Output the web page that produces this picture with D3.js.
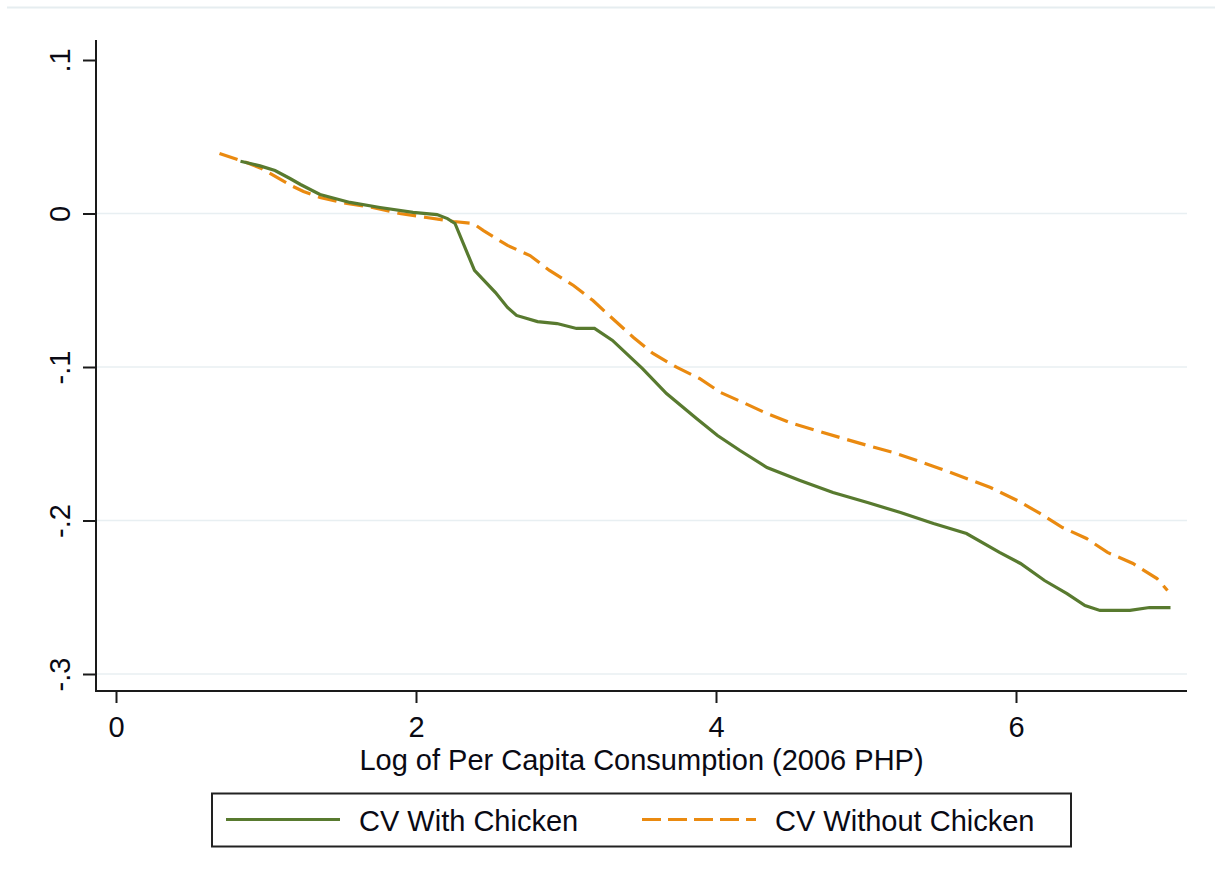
<!DOCTYPE html>
<html>
<head>
<meta charset="utf-8">
<script src="https://cdn.jsdelivr.net/npm/d3@7"></script>
<style>
  html, body { margin: 0; padding: 0; background: #ffffff; }
  svg { display: block; font-family: "Liberation Sans", Arial, sans-serif; }
</style>
</head>
<body>
<svg id="chart" width="1215" height="885"></svg>
<script>
// ---- Data ----
const xWith = [0.83, 0.96, 1.06, 1.16, 1.23, 1.36, 1.56, 1.76, 1.98, 2.14, 2.21, 2.26, 2.39, 2.53, 2.61, 2.67,
  2.81, 2.94, 3.07, 3.19, 3.31, 3.51, 3.67, 3.87, 4.01, 4.16, 4.34, 4.56, 4.78, 5.01, 5.23, 5.45, 5.67, 5.89,
  6.03, 6.19, 6.34, 6.46, 6.56, 6.76, 6.89, 7.03];
const yWith = [0.034, 0.031, 0.028, 0.0228, 0.0189, 0.0124, 0.0072, 0.0039, 0.0007, -0.0007, -0.0033, -0.0065,
  -0.0371, -0.0515, -0.0612, -0.0664, -0.0704, -0.0717, -0.0749, -0.0749, -0.0827, -0.101, -0.1173, -0.1336,
  -0.1446, -0.1544, -0.1655, -0.1739, -0.1818, -0.1883, -0.1948, -0.202, -0.2085, -0.2208, -0.228, -0.2391,
  -0.2476, -0.2554, -0.2586, -0.2586, -0.2567, -0.2567];

const xWithout = [0.69, 0.87, 0.97, 1.05, 1.18, 1.25, 1.36, 1.54, 1.71, 1.89, 2.07, 2.25, 2.38, 2.45, 2.61,
  2.76, 2.89, 3.05, 3.18, 3.31, 3.45, 3.58, 3.74, 3.89, 4.03, 4.18, 4.34, 4.51, 4.67, 4.85, 5.01, 5.18, 5.34,
  5.49, 5.67, 5.83, 6.01, 6.16, 6.31, 6.47, 6.61, 6.78, 6.94, 7.01];
const yWithout = [0.0391, 0.0332, 0.0293, 0.0248, 0.0176, 0.0143, 0.0104, 0.0065, 0.0039, 0.0, -0.0026, -0.0052,
  -0.0065, -0.0111, -0.0208, -0.0274, -0.0371, -0.0469, -0.0567, -0.0684, -0.0808, -0.0912, -0.1003, -0.1075,
  -0.1166, -0.1231, -0.1303, -0.1368, -0.1414, -0.1466, -0.1511, -0.1557, -0.1609, -0.1661, -0.1726, -0.1785,
  -0.187, -0.1954, -0.2046, -0.2117, -0.2208, -0.228, -0.2378, -0.2456];

const xTicks = [0, 2, 4, 6];
const xTickLabels = ["0", "2", "4", "6"];
const yTicks = [0.1, 0, -0.1, -0.2, -0.3];
const yTickLabels = [".1", "0", "-.1", "-.2", "-.3"];
const gridTicks = [0, -0.1, -0.2, -0.3];
const seriesNames = ["CV With Chicken", "CV Without Chicken"];
const xTitle = "Log of Per Capita Consumption (2006 PHP)";

// ---- Layout ----
const plot = { left: 96, right: 1187, top: 40, bottom: 691 };
const x = d3.scaleLinear().domain([0, 6]).range([116, 1016]);
const y = d3.scaleLinear().domain([-0.3, 0.1]).range([674, 60]);

const colWith = "#587a2f";
const colWithout = "#ea8a10";
const axisCol = "#1a1a1a";
const textCol = "#0a0a14";
const fontSize = 29;

const svg = d3.select("#chart");

// faint outer frame line at top
svg.append("line").attr("x1", 7).attr("x2", 1215).attr("y1", 7.5).attr("y2", 7.5)
  .attr("stroke", "#e6edf0").attr("stroke-width", 2);

// gridlines
svg.append("g").selectAll("line").data(gridTicks).join("line")
  .attr("x1", plot.left).attr("x2", plot.right)
  .attr("y1", d => y(d)).attr("y2", d => y(d))
  .attr("stroke", "#e8eff2").attr("stroke-width", 1.5);

// series lines
const lineGen = d3.line().x(d => x(d[0])).y(d => y(d[1]));
const dataWith = xWith.map((v, i) => [v, yWith[i]]);
const dataWithout = xWithout.map((v, i) => [v, yWithout[i]]);

svg.append("path").datum(dataWithout).attr("d", lineGen)
  .attr("fill", "none").attr("stroke", colWithout).attr("stroke-width", 3.2)
  .attr("stroke-dasharray", "19,8");
svg.append("path").datum(dataWith).attr("d", lineGen)
  .attr("fill", "none").attr("stroke", colWith).attr("stroke-width", 3.2);

// y axis
const yAxis = d3.axisLeft(y).tickValues(yTicks).tickSize(13)
  .tickFormat((d, i) => yTickLabels[i]).tickSizeOuter(0);
const gy = svg.append("g").attr("transform", `translate(${plot.left},0)`).call(yAxis);
gy.select(".domain").remove();
gy.selectAll(".tick line").attr("stroke", axisCol).attr("stroke-width", 2);
gy.selectAll(".tick text")
  .attr("x", null).attr("dy", null)
  .attr("transform", "translate(-26,0) rotate(-90)")
  .attr("text-anchor", "middle")
  .attr("fill", textCol).attr("font-size", fontSize)
  .attr("font-family", "'Liberation Sans', Arial, sans-serif");
svg.append("line").attr("x1", plot.left).attr("x2", plot.left)
  .attr("y1", plot.top).attr("y2", plot.bottom + 1)
  .attr("stroke", axisCol).attr("stroke-width", 2);

// x axis
const xAxis = d3.axisBottom(x).tickValues(xTicks).tickSize(12)
  .tickFormat((d, i) => xTickLabels[i]).tickSizeOuter(0);
const gx = svg.append("g").attr("transform", `translate(0,${plot.bottom})`).call(xAxis);
gx.select(".domain").remove();
gx.selectAll(".tick line").attr("stroke", axisCol).attr("stroke-width", 2);
gx.selectAll(".tick text")
  .attr("y", 46).attr("dy", null)
  .attr("fill", textCol).attr("font-size", fontSize)
  .attr("font-family", "'Liberation Sans', Arial, sans-serif");
svg.append("line").attr("x1", plot.left - 1).attr("x2", plot.right)
  .attr("y1", plot.bottom).attr("y2", plot.bottom)
  .attr("stroke", axisCol).attr("stroke-width", 2);

// x title
svg.append("text").attr("x", (plot.left + plot.right) / 2).attr("y", 770)
  .attr("text-anchor", "middle").attr("font-size", fontSize).attr("fill", textCol)
  .text(xTitle);

// legend
const lg = svg.append("g");
lg.append("rect").attr("x", 212).attr("y", 793.5).attr("width", 859).attr("height", 53)
  .attr("fill", "#fff").attr("stroke", "#222").attr("stroke-width", 2);
const legendItems = [
  { name: seriesNames[0], color: colWith, dash: null, x0: 226 },
  { name: seriesNames[1], color: colWithout, dash: "19,7", x0: 642 }
];
legendItems.forEach(it => {
  lg.append("line").attr("x1", it.x0).attr("x2", it.x0 + 114).attr("y1", 819.5).attr("y2", 819.5)
    .attr("stroke", it.color).attr("stroke-width", 3.2)
    .attr("stroke-dasharray", it.dash);
  lg.append("text").attr("x", it.x0 + 133).attr("y", 831)
    .attr("font-size", fontSize).attr("fill", textCol).text(it.name);
});
</script>
</body>
</html>
